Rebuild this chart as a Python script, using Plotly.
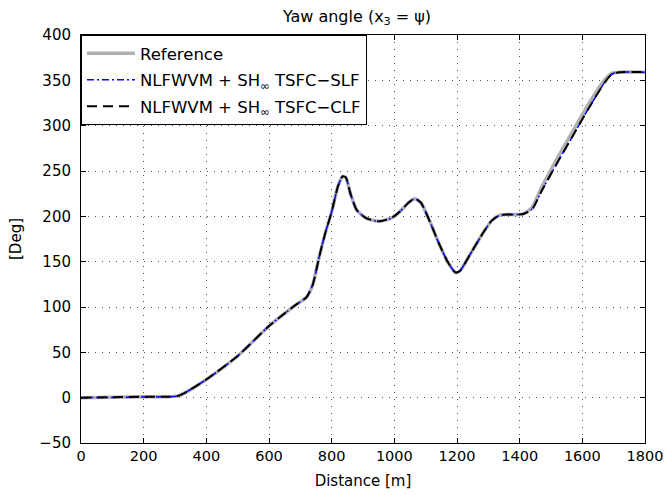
import plotly.graph_objects as go

# Reference trajectory (distance [m], yaw [deg])
ref_x = [0, 100, 200, 280, 310, 330, 400, 500, 600, 680, 720, 740, 760, 780, 800, 820, 835, 845, 860, 880, 910,
         950, 990, 1020, 1045, 1065, 1085, 1110, 1140, 1170, 1195, 1210, 1240, 1280, 1310, 1335, 1360, 1410, 1440,
         1470, 1520, 1570, 1620, 1670, 1695, 1720, 1800]
ref_y = [0, 0.5, 1, 1, 2, 5, 20, 46, 79, 101, 111, 125, 155, 182, 205, 233, 244, 243, 225, 207, 198,
         194.5, 198, 206, 215, 219.5, 215, 197, 172, 150, 138, 140, 157, 180, 195, 201, 202, 202.5, 210,
         232, 264, 294, 324, 350, 358, 359, 359]

# Controller outputs (nearly identical, slight lag on the last climb)
slf_y = [0, 0.3, 0.8, 1, 2, 5, 20, 46, 79, 101, 111, 125, 155, 182, 205, 233, 244, 243, 225, 207, 198,
         194.5, 198, 206, 215, 219.5, 215, 197, 172, 150, 138, 140, 157, 180, 195, 201, 202, 202.5, 208,
         228, 259, 289, 319, 347, 357, 359, 359]
clf_y = [0, 0.5, 1, 1, 2, 5, 20, 46, 79, 101, 111, 125, 155, 182, 205, 233, 244, 243, 225, 207, 198,
         194.5, 198, 206, 215, 219.5, 215, 197, 172, 150, 138, 140, 157, 180, 195, 201, 202, 202.5, 208,
         228, 259, 289, 319, 347, 357, 359, 359]

x_ticks = [0, 200, 400, 600, 800, 1000, 1200, 1400, 1600, 1800]
y_ticks = [-50, 0, 50, 100, 150, 200, 250, 300, 350, 400]

FONT = "DejaVu Sans, Arial, sans-serif"

fig = go.Figure()
fig.add_trace(go.Scatter(x=ref_x, y=ref_y, mode="lines", name="Reference", legendgroup="a",
                         line=dict(color="#b0b0b0", width=3.5, shape="spline", smoothing=0.6)))
fig.add_trace(go.Scatter(x=ref_x, y=slf_y, mode="lines", legendgroup="b",
                         name="NLFWVM + SH<sub>∞</sub> TSFC−SLF",
                         line=dict(color="#0000ff", width=1.5, dash="7px,3px,2px,3px", shape="spline", smoothing=0.6)))
fig.add_trace(go.Scatter(x=ref_x, y=clf_y, mode="lines", legendgroup="c",
                         name="NLFWVM + SH<sub>∞</sub> TSFC−CLF",
                         line=dict(color="#000000", width=2, dash="10px,6px", shape="spline", smoothing=0.6)))

axis_common = dict(showline=True, linecolor="black", linewidth=1, mirror="ticks",
                   ticks="inside", ticklen=5, tickcolor="black",
                   showgrid=True, gridcolor="#505050", griddash="1px,6px", gridwidth=1,
                   zeroline=False,
                   automargin=False, ticklabeloverflow="allow")

fig.update_layout(
    width=664, height=498,
    margin=dict(l=81, r=19, t=35, b=55),
    paper_bgcolor="white", plot_bgcolor="white",
    font=dict(family=FONT, color="black", size=15),
    title=dict(text="Yaw angle (x<sub>3</sub> = ψ)", xref="container", x=357 / 664, xanchor="center",
               yref="container", y=1 - 16.5 / 498, yanchor="middle", font=dict(size=16)),
    xaxis=dict(range=[0, 1800], tickvals=x_ticks, ticklabelstandoff=0,
               tickfont=dict(size=14.5, color="black", family=FONT),
               title=dict(text="Distance [m]", font=dict(size=15), standoff=12), **axis_common),
    yaxis=dict(range=[-50, 400], tickvals=y_ticks, ticklabelstandoff=6,
               tickfont=dict(size=15, color="black", family=FONT),
               title=dict(text="[Deg]", font=dict(size=15), standoff=14), **axis_common),
    legend=dict(x=0, y=1, xanchor="left", yanchor="top", bgcolor="white",
                bordercolor="black", borderwidth=1, font=dict(size=16.5),
                traceorder="grouped", tracegroupgap=2, itemwidth=48),
    showlegend=True,
)

fig.write_html("out.html", config={"displayModeBar": False},
               post_script="document.body.style.margin='0';document.body.style.overflow='hidden';")
